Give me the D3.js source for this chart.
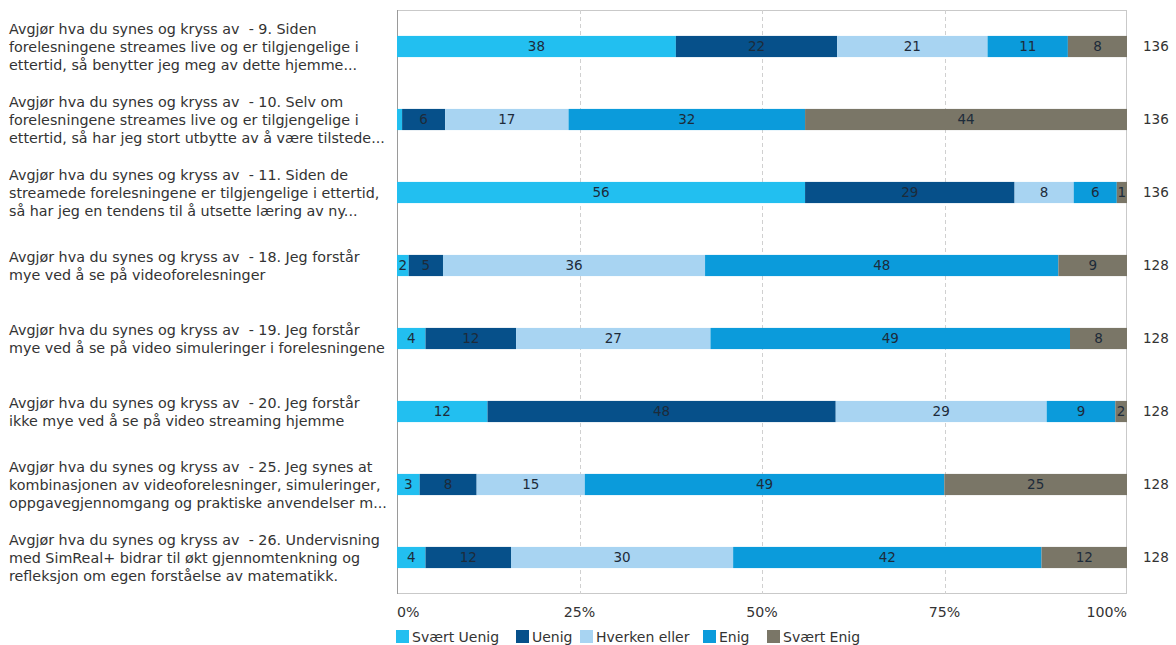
<!DOCTYPE html>
<html><head><meta charset="utf-8">
<script src="https://cdn.jsdelivr.net/npm/d3@7"></script>
<style>
html,body{margin:0;padding:0;background:#fff;}
svg{display:block;font-family:"DejaVu Sans",Verdana,sans-serif;}
text{white-space:pre;}
</style></head>
<body><svg id="c" width="1176" height="645"></svg>
<script>
const categories = [
  ["Avgjør hva du synes og kryss av  - 9. Siden","forelesningene streames live og er tilgjengelige i","ettertid, så benytter jeg meg av dette hjemme..."],
  ["Avgjør hva du synes og kryss av  - 10. Selv om","forelesningene streames live og er tilgjengelige i","ettertid, så har jeg stort utbytte av å være tilstede..."],
  ["Avgjør hva du synes og kryss av  - 11. Siden de","streamede forelesningene er tilgjengelige i ettertid,","så har jeg en tendens til å utsette læring av ny..."],
  ["Avgjør hva du synes og kryss av  - 18. Jeg forstår","mye ved å se på videoforelesninger"],
  ["Avgjør hva du synes og kryss av  - 19. Jeg forstår","mye ved å se på video simuleringer i forelesningene"],
  ["Avgjør hva du synes og kryss av  - 20. Jeg forstår","ikke mye ved å se på video streaming hjemme"],
  ["Avgjør hva du synes og kryss av  - 25. Jeg synes at","kombinasjonen av videoforelesninger, simuleringer,","oppgavegjennomgang og praktiske anvendelser m..."],
  ["Avgjør hva du synes og kryss av  - 26. Undervisning","med SimReal+ bidrar til økt gjennomtenkning og","refleksjon om egen forståelse av matematikk."]
];
const seriesNames = ["Svært Uenig","Uenig","Hverken eller","Enig","Svært Enig"];
const svaertUenig  = [38.2, 0.7, 55.9, 1.6, 3.9, 12.4, 3.1, 3.9];
const uenig        = [22.1, 5.9, 28.7, 4.7, 12.4, 47.7, 7.8, 11.7];
const hverkenEller = [20.6, 16.9, 8.1, 35.9, 26.6, 28.9, 14.8, 30.4];
const enig         = [11.0, 32.4, 5.9, 48.4, 49.2, 9.4, 49.2, 42.2];
const svaertEnig   = [8.1, 44.1, 1.4, 9.4, 7.8, 1.6, 25.0, 11.7];
const respondents  = [136, 136, 136, 128, 128, 128, 128, 128];
const tickValues   = [0, 0.25, 0.5, 0.75, 1];
const tickLabels   = ["0%","25%","50%","75%","100%"];
const colors = ["#22bff0","#06508a","#a8d4f2","#0b9bdb","#7a7667"];

const seriesArrays = [svaertUenig, uenig, hverkenEller, enig, svaertEnig];
const rows = categories.map((c,i)=>{
  const o = {idx:i};
  seriesNames.forEach((s,j)=>o[s]=seriesArrays[j][i]);
  return o;
});

const svg = d3.select("#c");
const m = {left:397, right:1127, top:10, bottom:594};
const x = d3.scaleLinear().domain([0,1]).range([m.left, m.right]);
const y = d3.scaleBand().domain(d3.range(categories.length)).range([m.top, m.bottom]).paddingInner(0.71).paddingOuter(0.355);

const stack = d3.stack().keys(seriesNames).offset(d3.stackOffsetExpand);
const series = stack(rows);

// frame
svg.append("rect").attr("x", m.left+0.5).attr("y", m.top+0.5)
  .attr("width", m.right-m.left-1).attr("height", m.bottom-m.top-1)
  .attr("fill","none").attr("stroke","#c9c9c9");

// grid
svg.append("g").selectAll("line").data(tickValues.slice(1,-1)).join("line")
  .attr("x1", d=>Math.round(x(d))+0.5).attr("x2", d=>Math.round(x(d))+0.5)
  .attr("y1", m.top).attr("y2", m.bottom)
  .attr("stroke","#d0d0d0").attr("stroke-dasharray","4,3");

// left axis line
svg.append("line").attr("x1", m.left+0.5).attr("x2", m.left+0.5)
  .attr("y1", m.top).attr("y2", m.bottom).attr("stroke","#9a9a9a");

// bars
const g = svg.append("g");
series.forEach((s,si)=>{
  g.append("g").attr("fill", colors[si]).selectAll("rect").data(s).join("rect")
    .attr("x", d=>x(d[0])).attr("width", d=>Math.max(0, x(d[1])-x(d[0])))
    .attr("y", (d,i)=>y(i)).attr("height", y.bandwidth());
});
// bar labels
series.forEach((s,si)=>{
  const key = seriesNames[si];
  g.append("g").selectAll("text").data(s).join("text")
    .filter(d=> (x(d[1])-x(d[0])) >= 7)
    .attr("x", d=>(x(d[0])+x(d[1]))/2)
    .attr("y", d=>y(d.data.idx)+y.bandwidth()/2)
    .attr("dy","0.36em").attr("text-anchor","middle")
    .attr("font-size", 13.5).attr("fill","#1d2b3a")
    .text(d=>Math.round(d.data[key]));
});

// category labels
const lh = 18;
const lab = svg.append("g").attr("font-size",14.3).attr("fill","#333");
categories.forEach((lines,i)=>{
  const cy = y(i)+y.bandwidth()/2;
  const t = lab.append("text").attr("x", 9);
  lines.forEach((ln,k)=>{
    t.append("tspan").attr("x",9).attr("y", cy + (k-(lines.length-1)/2)*lh).attr("dy","0.36em").text(ln);
  });
});

// respondents
svg.append("g").selectAll("text").data(respondents).join("text")
  .attr("x", 1143).attr("y",(d,i)=>y(i)+y.bandwidth()/2).attr("dy","0.36em")
  .attr("font-size",13.5).attr("fill","#333").text(d=>d);

// x axis tick labels
svg.append("g").selectAll("text").data(tickValues).join("text")
  .attr("x", d=>x(d)).attr("y", 612).attr("dy","0.36em")
  .attr("text-anchor",(d,i)=> i===0?"start":(i===tickValues.length-1?"end":"middle"))
  .attr("font-size",14.2).attr("fill","#333").text((d,i)=>tickLabels[i]);

// legend
const legX = [396, 516, 580, 703, 767];
const leg = svg.append("g");
seriesNames.forEach((s,i)=>{
  leg.append("rect").attr("x", legX[i]).attr("y", 630).attr("width",13).attr("height",13).attr("fill",colors[i]);
  leg.append("text").attr("x", legX[i]+16).attr("y", 637).attr("dy","0.36em")
    .attr("font-size",14).attr("fill","#333").text(s);
});
</script></body></html>
